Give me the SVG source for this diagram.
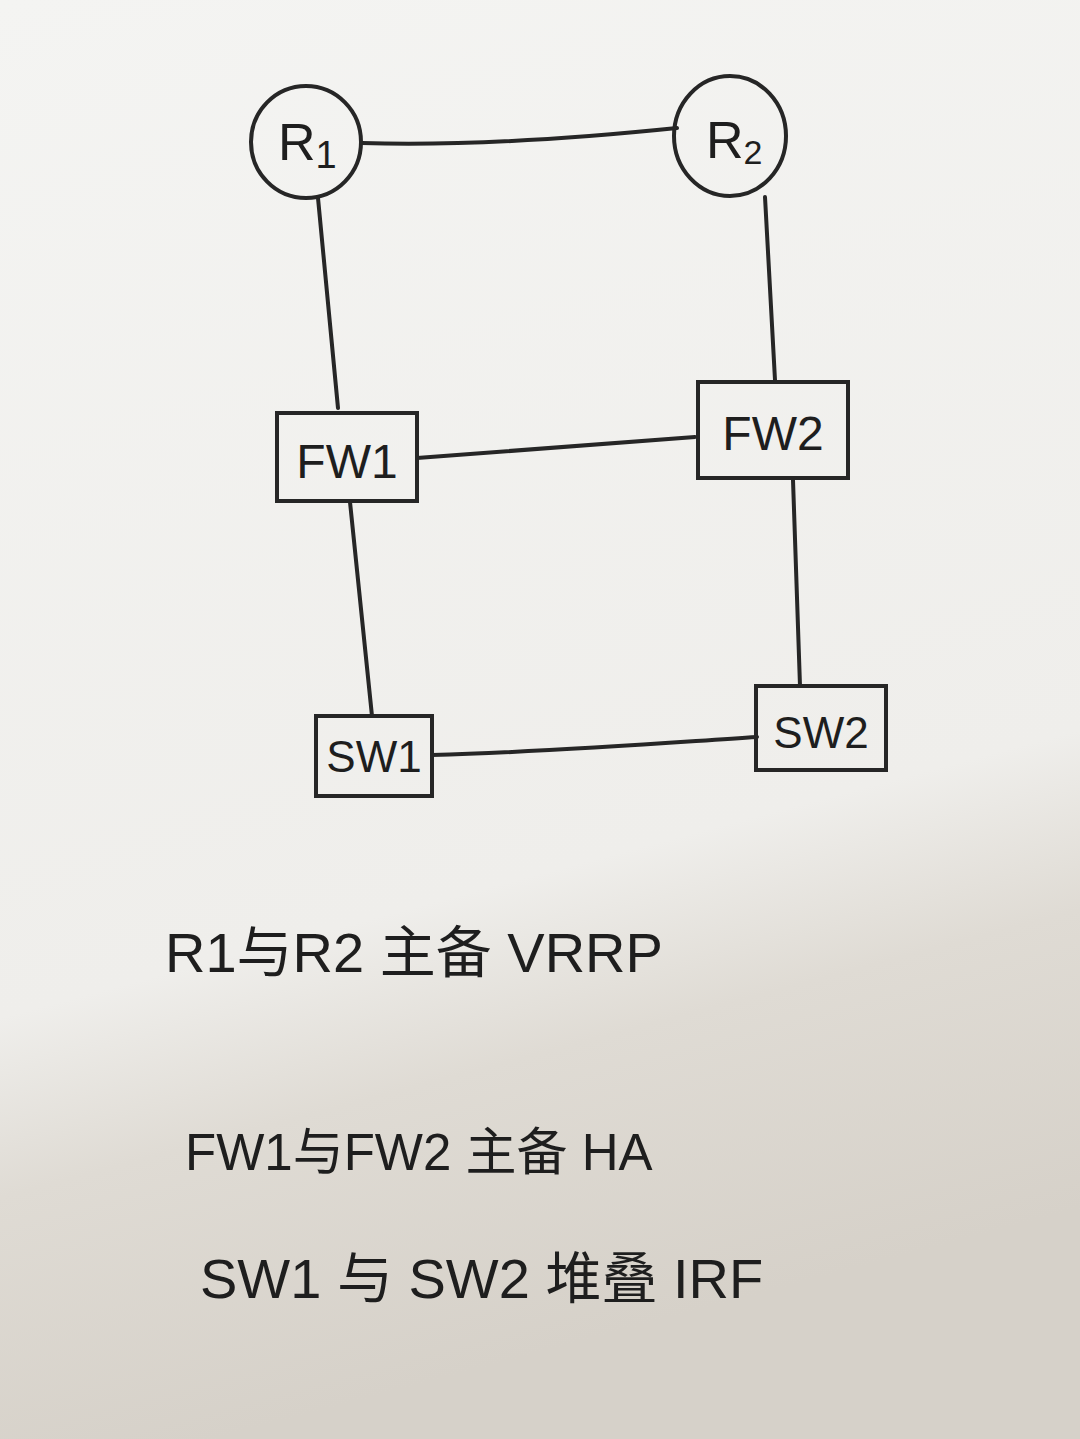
<svg xmlns="http://www.w3.org/2000/svg" width="1080" height="1439" viewBox="0 0 1080 1439">
<defs>
<linearGradient id="bg" x1="0" y1="0" x2="0.2" y2="1">
<stop offset="0" stop-color="#f4f4f2"/>
<stop offset="0.68" stop-color="#efeeeb"/>
<stop offset="0.8" stop-color="#dfdbd4"/>
<stop offset="1" stop-color="#d6d1c9"/>
</linearGradient>
<style>
.s{fill:none;stroke:#262626;stroke-width:4;stroke-linecap:round;stroke-linejoin:round}
.n{fill:none;stroke:#262626;stroke-width:4}
.t{font-family:"Liberation Sans","Noto Sans CJK SC",sans-serif;fill:#1e1e1e}
</style>
</defs>
<rect width="1080" height="1439" fill="url(#bg)"/>
<g id="connectors">
<path class="s" d="M362,143 C460,146 560,140 677,128"/>
<path class="s" d="M318,198 L338,408"/>
<path class="s" d="M765,197 L775,380"/>
<path class="s" d="M417,458 L695,437"/>
<path class="s" d="M350,502 L372,716"/>
<path class="s" d="M793,480 L800,686"/>
<path class="s" d="M432,755 C550,752 650,744 757,737"/>
</g>
<g id="R1">
<ellipse class="n" cx="306" cy="142" rx="55" ry="56"/>
<text class="t" x="278" y="160" font-size="52">R<tspan font-size="38" dy="8">1</tspan></text>
</g>
<g id="R2">
<ellipse class="n" cx="730" cy="136" rx="56" ry="60"/>
<text class="t" x="706" y="158" font-size="52">R<tspan font-size="34" dy="6">2</tspan></text>
</g>
<g id="FW1">
<rect class="n" x="277" y="413" width="140" height="88"/>
<text class="t" x="347" y="478" font-size="48" text-anchor="middle">FW1</text>
</g>
<g id="FW2">
<rect class="n" x="698" y="382" width="150" height="96"/>
<text class="t" x="773" y="450" font-size="48" text-anchor="middle">FW2</text>
</g>
<g id="SW1">
<rect class="n" x="316" y="716" width="116" height="80"/>
<text class="t" x="374" y="772" font-size="44" text-anchor="middle">SW1</text>
</g>
<g id="SW2">
<rect class="n" x="756" y="686" width="130" height="84"/>
<text class="t" x="821" y="748" font-size="44" text-anchor="middle">SW2</text>
</g>
<g id="notes">
<text class="t" x="165" y="972" font-size="56">R1与R2 主备 VRRP</text>
<text class="t" x="185" y="1170" font-size="51">FW1与FW2 主备 HA</text>
<text class="t" x="200" y="1298" font-size="56">SW1 与 SW2 堆叠 IRF</text>
</g>
</svg>
